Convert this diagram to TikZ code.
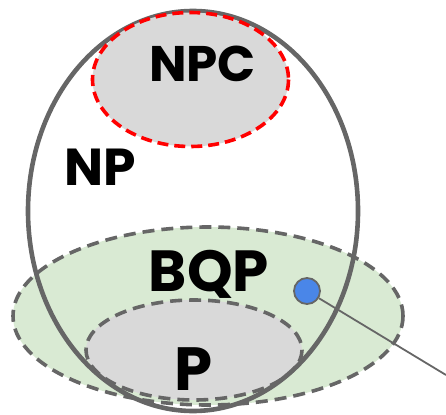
\documentclass[tikz,border=0pt]{standalone}
\usepackage{fontspec}
\setmainfont{Poppins}
\definecolor{edgegray}{HTML}{666666}
\definecolor{fillgray}{HTML}{D9D9D9}
\definecolor{fillgreen}{HTML}{D9EAD3}
\definecolor{dotblue}{HTML}{4A86E8}
\definecolor{npcred}{HTML}{FF0000}
\tikzset{
  setdash/.style={draw=edgegray, line width=3.6pt, dash pattern=on 12pt off 7pt},
  reddash/.style={draw=npcred, line width=3.6pt, dash pattern=on 11pt off 6pt},
  label/.style={font=\bfseries, anchor=base, inner sep=0pt, text=black},
}
\begin{document}
\begin{tikzpicture}[x=1pt,y=-1pt]
\useasboundingbox (0,0) rectangle (446,414);
% BQP
\path[fill=fillgreen] (208,316) ellipse [x radius=195, y radius=89];
\path[setdash] (208,316) ellipse [x radius=195, y radius=89];
% P
\path[fill=fillgray] (194,350) ellipse [x radius=108, y radius=50];
\path[setdash] (194,350) ellipse [x radius=108, y radius=50];
% NP
\draw[edgegray, line width=4.6pt] (193,211) ellipse [x radius=165, y radius=200];
% NPC
\path[fill=fillgray] (190.5,79.5) ellipse [x radius=98, y radius=67];
\path[reddash] (190.5,79.5) ellipse [x radius=98, y radius=67];
% labels
\node[label, font=\fontsize{50}{50}\selectfont\bfseries] (npc) at (202.5,82) {NPC};
\node[label, font=\fontsize{52}{52}\selectfont\bfseries] (np) at (100,185) {NP};
\node[label, font=\fontsize{58}{58}\selectfont\bfseries] (bqp) at (209,291) {BQP};
\node[label, font=\fontsize{61}{61}\selectfont\bfseries] (p) at (193.5,390) {P};
% dot and leader
\node[circle, fill=dotblue, draw=edgegray, line width=1.8pt, minimum size=26pt, inner sep=0pt] (dot) at (307,291) {};
\coordinate (lend) at (446,375);
\draw[edgegray, line width=1.8pt] (dot) -- (lend);
\end{tikzpicture}
\end{document}
